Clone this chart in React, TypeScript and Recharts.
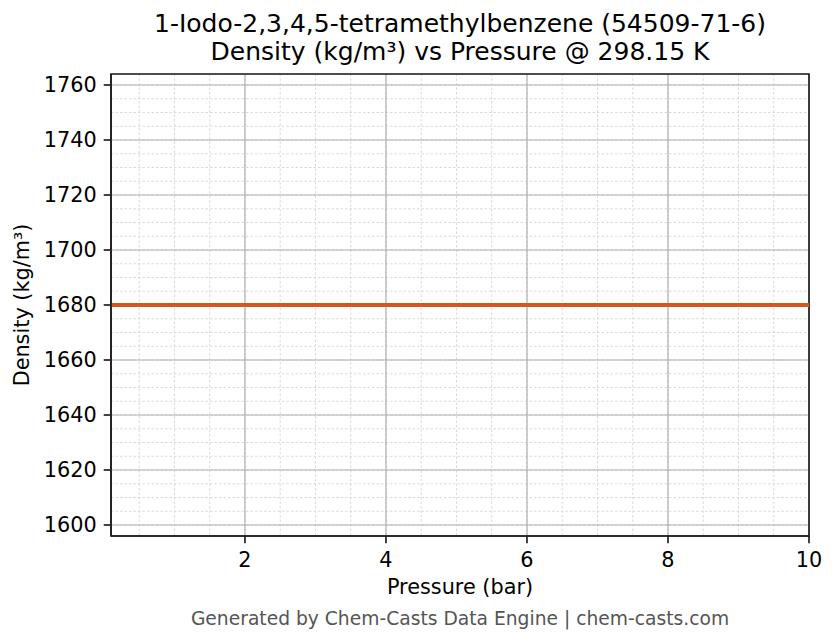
import {
    CartesianGrid,
    Label,
    Line,
    LineChart,
    ReferenceArea,
    XAxis,
    YAxis,
} from "recharts";

// pressure (bar) and density (kg/m3) at 298.15 K
const pressures = [0.1, 0.5, 1, 2, 3, 4, 5, 6, 7, 8, 9, 10];
const densities = [1680, 1680, 1680, 1680, 1680, 1680, 1680, 1680, 1680, 1680, 1680, 1680];

const xDomain = [0.1, 10];
const yDomain = [1596, 1764];

const xTicks = [2, 4, 6, 8, 10];
const xMinorTicks = [0.5, 1, 1.5, 2, 2.5, 3, 3.5, 4, 4.5, 5, 5.5, 6, 6.5, 7, 7.5, 8, 8.5, 9, 9.5, 10];
const yTicks = [1600, 1620, 1640, 1660, 1680, 1700, 1720, 1740, 1760];
const yMinorTicks = [
    1600, 1605, 1610, 1615, 1620, 1625, 1630, 1635, 1640, 1645, 1650,
    1655, 1660, 1665, 1670, 1675, 1680, 1685, 1690, 1695, 1700, 1705,
    1710, 1715, 1720, 1725, 1730, 1735, 1740, 1745, 1750, 1755, 1760,
];

const titleLines = [
    "1-Iodo-2,3,4,5-tetramethylbenzene (54509-71-6)",
    "Density (kg/m³) vs Pressure @ 298.15 K",
];
const xLabel = "Pressure (bar)";
const yLabel = "Density (kg/m³)";
const footer = "Generated by Chem-Casts Data Engine | chem-casts.com";

const data = pressures.map((p, i) => ({ p, d: densities[i] }));

const FONT = "DejaVu Sans, sans-serif";
const INK = "#222222";
// minor axes need a non-zero size or recharts skips drawing them
const THIN = 0.01;
const noLabel = () => "";

export default function App() {
    return (
        <div
            style={{
                position: "absolute",
                left: 0,
                top: 0,
                width: 836,
                height: 644,
                background: "#fff",
                fontFamily: FONT,
            }}
        >
            <svg
                width={836}
                height={644}
                style={{ position: "absolute", left: 0, top: 0 }}
            >
                <text x={460} y={32} textAnchor="middle" fontSize={25} fill="#000" fontFamily={FONT}>
                    {titleLines[0]}
                </text>
                <text x={460} y={59.5} textAnchor="middle" fontSize={25} fill="#000" fontFamily={FONT}>
                    {titleLines[1]}
                </text>
                <text x={460} y={625} textAnchor="middle" fontSize={18.7} fill="#555" fontFamily={FONT}>
                    {footer}
                </text>
            </svg>
            <div style={{ position: "absolute", left: 0, top: 0 }}>
                <LineChart
                    width={836}
                    height={644}
                    data={data}
                    margin={{ top: 74, right: 27, bottom: 0, left: 0 }}
                >
                    <XAxis
                        xAxisId="minor"
                        dataKey="p"
                        type="number"
                        domain={xDomain}
                        allowDataOverflow
                        ticks={xMinorTicks}
                        interval={0}
                        height={THIN}
                        tickFormatter={noLabel}
                        tick={{ fontSize: 1 }}
                        axisLine={false}
                        tickSize={4.2}
                        tickLine={{ stroke: INK, strokeWidth: 1.2 }}
                    />
                    <XAxis
                        dataKey="p"
                        type="number"
                        domain={xDomain}
                        allowDataOverflow
                        ticks={xTicks}
                        interval={0}
                        height={108 - THIN}
                        tickSize={7.3}
                        tickMargin={9}
                        axisLine={{ stroke: INK, strokeWidth: 1.7 }}
                        tickLine={{ stroke: INK, strokeWidth: 1.7 }}
                        tick={{ fill: "#000", fontSize: 20.8, fontFamily: FONT }}
                    >
                        <Label
                            content={({ viewBox }: any) => (
                                <text
                                    x={viewBox.x + viewBox.width / 2}
                                    y={viewBox.y + 58}
                                    textAnchor="middle"
                                    fontSize={20.8}
                                    fontFamily={FONT}
                                    fill="#000"
                                >
                                    {xLabel}
                                </text>
                            )}
                        />
                    </XAxis>
                    <YAxis
                        yAxisId="minor"
                        type="number"
                        domain={yDomain}
                        allowDataOverflow
                        ticks={yMinorTicks}
                        interval={0}
                        width={THIN}
                        tickFormatter={noLabel}
                        tick={{ fontSize: 1 }}
                        axisLine={false}
                        tickSize={4.2}
                        tickLine={{ stroke: INK, strokeWidth: 1.2 }}
                    />
                    <YAxis
                        type="number"
                        domain={yDomain}
                        allowDataOverflow
                        ticks={yTicks}
                        interval={0}
                        width={111 - THIN}
                        tickSize={7.3}
                        tickMargin={7}
                        axisLine={{ stroke: INK, strokeWidth: 1.7 }}
                        tickLine={{ stroke: INK, strokeWidth: 1.7 }}
                        tick={{ fill: "#000", fontSize: 20.8, fontFamily: FONT }}
                    >
                        <Label
                            content={({ viewBox }: any) => {
                                const x = viewBox.x + 29;
                                const y = viewBox.y + viewBox.height / 2;
                                return (
                                    <text
                                        x={x}
                                        y={y}
                                        transform={`rotate(-90, ${x}, ${y})`}
                                        textAnchor="middle"
                                        fontSize={20.8}
                                        fontFamily={FONT}
                                        fill="#000"
                                    >
                                        {yLabel}
                                    </text>
                                );
                            }}
                        />
                    </YAxis>
                    <CartesianGrid
                        xAxisId="minor"
                        yAxisId="minor"
                        stroke="#d6d6d6"
                        strokeWidth={0.9}
                        strokeDasharray="2.5 2"
                    />
                    <CartesianGrid stroke="#b0b0b0" strokeWidth={1.2} />
                    <Line
                        dataKey="d"
                        type="linear"
                        stroke="#DA5420"
                        strokeWidth={4.2}
                        dot={false}
                        activeDot={false}
                        isAnimationActive={false}
                    />
                    <ReferenceArea
                        x1={xDomain[0]}
                        x2={xDomain[1]}
                        y1={yDomain[0]}
                        y2={yDomain[1]}
                        fill="none"
                        stroke={INK}
                        strokeWidth={1.7}
                        ifOverflow="visible"
                    />
                </LineChart>
            </div>
        </div>
    );
}
